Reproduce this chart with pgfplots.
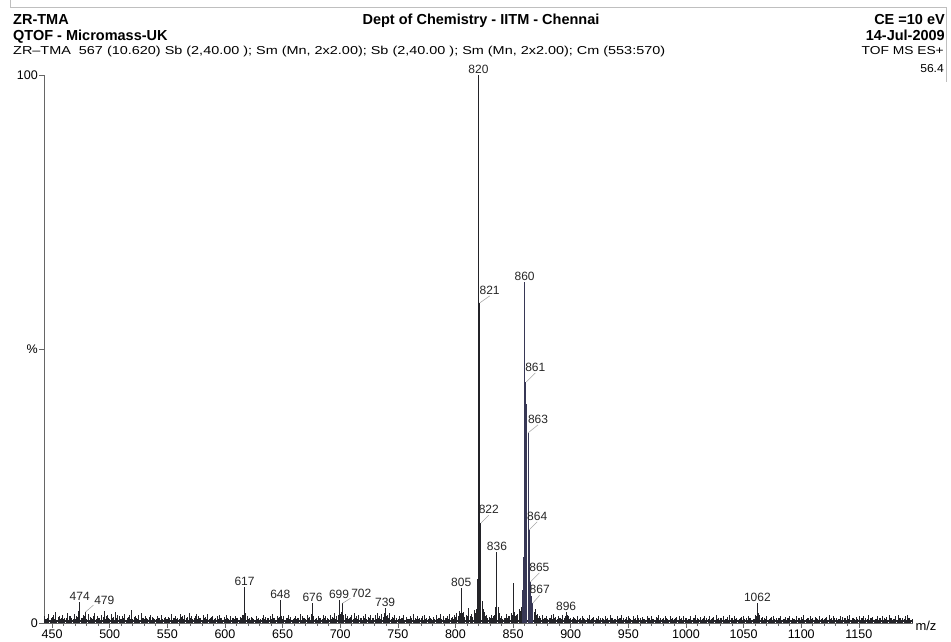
\documentclass[border=0pt]{standalone}
\usepackage{fontspec}
\setmainfont{Liberation Sans}
\usepackage{graphicx}
\usepackage{pgfplots}
\pgfplotsset{compat=1.18}
\definecolor{spec}{RGB}{35,35,40}
\definecolor{clus}{RGB}{55,55,85}
\tikzset{
  lbl/.style={font=\fontsize{12}{13}\selectfont, inner sep=1pt, text=black!85},
  lead/.style={black!35, line width=0.6pt},
}
\begin{document}
\begin{tikzpicture}
\path[use as bounding box] (0pt,0pt) rectangle (951pt,642pt);
% page frame
\draw[black!25, line width=0.8pt] (10pt,642pt) -- (10pt,635pt) -- (946pt,635pt) -- (946pt,560pt);
% header
\node[anchor=base west, inner sep=0, font=\fontsize{14.5}{16}\selectfont\bfseries] at (13pt,617pt) {ZR-TMA};
\node[anchor=base west, inner sep=0, font=\fontsize{14.5}{16}\selectfont\bfseries] at (13pt,601pt) {QTOF - Micromass-UK};
\node[anchor=base west, inner sep=0, font=\fontsize{11.5}{13}\selectfont] at (13pt,587pt) {\resizebox{652pt}{\height}{ZR--TMA\ \ 567 (10.620) Sb (2,40.00 ); Sm (Mn, 2x2.00); Sb (2,40.00 ); Sm (Mn, 2x2.00); Cm (553:570)}};
\node[anchor=base, inner sep=0, font=\fontsize{14.5}{16}\selectfont\bfseries] at (481pt,617pt) {Dept of Chemistry - IITM - Chennai};
\node[anchor=base east, inner sep=0, font=\fontsize{14.5}{16}\selectfont\bfseries] at (945pt,617pt) {CE =10 eV};
\node[anchor=base east, inner sep=0, font=\fontsize{14.5}{16}\selectfont\bfseries] at (945pt,601pt) {14-Jul-2009};
\node[anchor=base east, inner sep=0, font=\fontsize{11.5}{13}\selectfont] at (944pt,587pt) {\scalebox{1.2}[1]{TOF MS ES+}};
\node[anchor=base east, inner sep=0, font=\fontsize{11.5}{13}\selectfont] at (944pt,569pt) {\scalebox{1.05}[1]{56.4}};
\begin{axis}[
  at={(44pt,19pt)}, anchor=south west,
  width=869pt, height=548pt, scale only axis,
  xmin=443, xmax=1197, ymin=0, ymax=100,
  axis x line=bottom, axis y line=left,
  axis line style={-, black!60, line width=0.7pt},
  xtick={450,500,...,1150}, minor x tick num=4,
  ytick={0,50,100}, yticklabels={0,\%,100},
  tick align=outside, major tick length=5pt, minor tick length=3pt,
  tick style={black!60, line width=0.6pt},
  /pgf/number format/assume math mode=true,
  /pgf/number format/set thousands separator={},
  xticklabel style={font=\fontsize{12.5}{14}\selectfont, inner sep=2pt},
  yticklabel style={font=\fontsize{12.5}{14}\selectfont, inner sep=1pt},
  clip=false,
]
% noise floor (odd m/z)
\addplot[ycomb, no marks, spec, line width=0.55pt] coordinates {
(443,1.2)(445,0.8)(447,1.6)(449,0.9)(451,1.4)(453,2.0)(455,1.1)(457,0.7)(459,1.5)(461,1.0)
(463,1.8)(465,1.2)(467,0.9)(469,1.6)(471,1.3)(473,2.2)(475,1.0)(477,1.4)(481,1.7)(483,1.1)
(485,0.8)(487,1.9)(489,1.2)(491,1.0)(493,1.5)(495,2.1)(497,1.3)(499,0.9)(501,1.6)(503,1.1)
(505,2.0)(507,1.4)(509,0.8)(511,1.2)(513,1.7)(515,1.0)(517,1.5)(519,2.3)(521,1.1)(523,0.9)
(525,1.4)(527,1.8)(529,1.0)(531,1.3)(533,0.7)(535,1.5)(537,1.1)(539,0.8)(541,1.2)(543,0.9)
(545,1.4)(547,1.0)(549,0.7)(551,1.1)(553,1.6)(555,0.9)(557,1.3)(559,1.0)(561,1.7)(563,1.2)
(565,1.5)(567,1.1)(569,1.8)(571,1.3)(573,1.0)(575,1.6)(577,1.2)(579,0.9)(581,1.4)(583,1.1)
(585,1.7)(587,1.0)(589,1.3)(591,0.8)(593,1.2)(595,1.5)(597,0.9)(599,1.1)(601,1.4)(603,0.8)
(605,1.2)(607,1.0)(609,1.3)(611,0.9)(613,1.1)(615,1.4)(619,1.2)(621,0.9)(623,1.1)(625,0.7)
(627,1.3)(629,1.0)(631,0.8)(633,1.4)(635,1.1)(637,0.9)(639,1.2)(641,1.6)(643,1.0)(645,1.3)
(647,1.1)(651,1.2)(653,0.9)(655,1.5)(657,1.1)(659,0.8)(661,1.3)(663,1.0)(665,1.6)(667,1.2)
(669,0.9)(671,1.4)(673,1.1)(675,1.7)(679,1.0)(681,1.3)(683,0.9)(685,1.5)(687,1.2)(689,1.0)
(691,1.4)(693,1.1)(695,1.8)(697,1.3)(701,2.0)(704,1.6)(706,1.2)(708,1.0)(710,1.5)(712,1.9)
(714,1.2)(716,1.4)(718,1.0)(720,1.3)(722,1.7)(724,1.1)(726,1.5)(728,0.9)(730,1.4)(732,1.8)
(734,1.2)(736,1.6)(738,1.9)(741,1.4)(743,1.8)(745,1.1)(747,1.5)(749,1.0)(751,1.3)(753,0.9)
(755,1.4)(757,1.1)(759,0.8)(761,1.2)(763,1.6)(765,1.0)(767,1.3)(769,0.9)(771,1.2)(773,1.5)
(775,1.0)(777,1.3)(779,0.8)(781,1.1)(783,1.4)(785,1.0)(787,1.7)(789,1.2)(791,0.9)(793,1.3)
(795,1.6)(797,1.1)(799,1.4)(801,1.8)(803,2.2)(807,2.0)(809,1.5)(814,1.6)(816,2.4)
(825,2.0)(827,1.4)(829,1.1)(831,1.5)(833,1.2)(838,1.8)(840,1.2)(842,1.0)(844,1.6)(846,1.3)
(848,1.8)(853,1.5)(855,2.5)(857,3.0)(869,2.5)(871,1.6)(873,1.2)(875,1.4)(877,1.0)(879,1.3)
(881,0.9)(883,1.5)(885,1.7)(887,1.1)(889,1.3)(891,1.0)(893,1.4)(898,1.3)(900,1.0)
(902,1.1)(904,0.8)(906,1.2)(908,0.9)(910,1.3)(912,0.7)(914,1.0)(916,1.4)(918,0.8)(920,1.1)
(922,0.9)(924,1.3)(926,1.0)(928,0.7)(930,1.2)(932,0.9)(934,1.4)(936,1.0)(938,0.8)(940,1.2)
(942,1.0)(944,1.5)(946,0.9)(948,1.1)(950,1.3)(952,0.8)(954,1.2)(956,1.0)(958,1.4)(960,0.9)
(962,1.1)(964,0.7)(966,1.3)(968,1.0)(970,1.2)(972,0.8)(974,1.1)(976,1.4)(978,0.9)(980,1.0)
(982,1.3)(984,0.8)(986,1.2)(988,1.0)(990,0.7)(992,1.1)(994,1.3)(996,0.9)(998,1.2)(1000,1.0)
(1002,0.8)(1004,1.2)(1006,1.0)(1008,1.4)(1010,0.9)(1012,1.1)(1014,0.8)(1016,1.3)(1018,1.0)(1020,1.2)
(1022,0.8)(1024,1.1)(1026,1.4)(1028,0.9)(1030,1.0)(1032,1.3)(1034,0.8)(1036,1.1)(1038,1.5)(1040,0.9)
(1042,1.2)(1044,1.0)(1046,0.8)(1048,1.1)(1050,1.3)(1052,0.9)(1054,1.2)(1056,1.0)(1058,0.8)(1060,1.4)
(1064,1.5)(1066,1.1)(1068,0.9)(1070,1.2)(1072,0.8)(1074,1.1)(1076,1.3)(1078,0.9)(1080,1.0)(1082,1.2)
(1084,0.7)(1086,1.1)(1088,0.9)(1090,1.3)(1092,1.0)(1094,0.8)(1096,1.2)(1098,0.9)(1100,1.1)(1102,1.4)
(1104,0.8)(1106,1.0)(1108,1.2)(1110,0.9)(1112,1.1)(1114,0.7)(1116,1.3)(1118,1.0)(1120,0.8)(1122,1.1)
(1124,1.4)(1126,0.9)(1128,1.2)(1130,1.0)(1132,0.8)(1134,1.3)(1136,1.1)(1138,0.9)(1140,1.2)(1142,1.5)
(1144,1.0)(1146,0.8)(1148,1.1)(1150,1.3)(1152,0.9)(1154,1.2)(1156,1.0)(1158,1.4)(1160,0.9)(1162,1.1)
(1164,0.8)(1166,1.2)(1168,1.0)(1170,1.3)(1172,0.9)(1174,1.1)(1176,1.4)(1178,1.0)(1180,0.8)(1182,1.2)
(1184,1.5)(1186,1.0)(1188,0.9)(1190,1.2)(1192,1.4)(1194,1.0)(1196,0.8)
};
% noise floor (in-between points)
\addplot[ycomb, no marks, spec, line width=0.5pt] coordinates {
(444,0.7)(446,1.0)(448,0.6)(450,1.1)(452,0.8)(454,0.6)(456,1.2)(458,0.9)(460,0.7)(462,1.0)
(464,0.6)(466,1.3)(468,0.8)(470,0.7)(472,1.1)(476,0.9)(478,1.2)(480,0.8)(482,0.6)(484,1.0)
(486,1.3)(488,0.7)(490,0.9)(492,0.6)(494,1.1)(496,0.8)(498,1.4)(500,0.7)(502,0.9)(504,0.6)
(506,1.0)(508,1.2)(510,0.7)(512,0.9)(514,0.6)(516,1.1)(518,0.8)(520,0.7)(522,1.2)(524,0.8)
(526,0.6)(528,1.0)(530,0.7)(532,0.9)(534,1.1)(536,0.6)(538,0.9)(540,0.7)(542,1.0)(544,0.6)
(546,0.8)(548,1.1)(550,0.7)(552,0.9)(554,0.6)(556,1.0)(558,0.8)(560,0.7)(562,1.1)(564,0.8)
(566,0.9)(568,0.6)(570,1.0)(572,0.8)(574,1.2)(576,0.7)(578,0.9)(580,0.6)(582,1.0)(584,0.8)
(586,0.7)(588,1.1)(590,0.6)(592,0.9)(594,0.7)(596,1.0)(598,0.6)(600,0.8)(602,1.0)(604,0.6)
(606,0.9)(608,0.7)(610,1.0)(612,0.6)(614,0.9)(616,1.5)(618,1.8)(620,0.7)(622,0.6)(624,0.9)
(626,0.6)(628,0.8)(630,0.6)(632,1.0)(634,0.7)(636,0.6)(638,0.9)(640,0.7)(642,0.9)(644,0.6)
(646,0.9)(649,1.3)(650,0.8)(652,0.6)(654,0.9)(656,0.7)(658,0.6)(660,1.0)(662,0.7)(664,0.9)
(666,0.6)(668,1.0)(670,0.7)(672,0.9)(674,0.6)(677,1.2)(678,0.8)(680,0.6)(682,0.9)(684,0.7)
(686,0.9)(688,0.6)(690,0.8)(692,0.7)(694,1.0)(696,0.8)(698,1.4)(700,1.6)(703,1.4)(705,0.9)
(707,0.7)(709,1.1)(711,0.8)(713,1.0)(715,0.7)(717,0.9)(719,0.6)(721,1.0)(723,0.8)(725,0.9)
(727,0.6)(729,1.0)(731,0.7)(733,0.9)(735,0.8)(737,1.1)(740,1.2)(742,0.9)(744,0.7)(746,1.0)
(748,0.6)(750,0.8)(752,0.7)(754,0.9)(756,0.6)(758,0.8)(760,0.7)(762,0.9)(764,0.6)(766,0.8)
(768,0.7)(770,0.9)(772,0.6)(774,0.8)(776,0.7)(778,0.9)(780,0.6)(782,0.8)(784,0.7)(786,1.0)
(788,0.8)(790,0.6)(792,0.9)(794,0.7)(796,0.9)(798,0.8)(800,1.1)(802,1.3)(804,1.8)(806,1.9)
(808,1.1)(810,1.2)(813,1.3)(815,1.1)(817,1.8)(818,2.6)(824,2.6)(826,1.2)(828,1.0)(830,0.9)
(832,1.0)(834,1.4)(839,1.0)(841,0.8)(843,0.9)(845,1.0)(847,1.2)(849,1.4)(851,2.0)(852,1.2)
(854,1.6)(856,2.2)(868,2.0)(870,1.4)(872,0.9)(874,1.0)(876,0.8)(878,0.9)(880,0.7)(882,1.0)
(884,0.8)(886,0.9)(888,0.7)(890,0.9)(892,0.8)(894,1.0)(895,1.2)(897,1.4)(899,0.8)(901,0.7)
(903,0.9)(905,0.6)(907,0.8)(909,0.6)(911,0.9)(913,0.6)(915,0.8)(917,0.6)(919,0.9)(921,0.6)
(923,0.8)(925,0.6)(927,0.9)(929,0.6)(931,0.8)(933,0.6)(935,0.9)(937,0.6)(939,0.8)(941,0.7)
(943,0.9)(945,0.6)(947,0.8)(949,0.6)(951,0.9)(953,0.6)(955,0.8)(957,0.6)(959,0.9)(961,0.6)
(963,0.8)(965,0.6)(967,0.9)(969,0.6)(971,0.8)(973,0.6)(975,0.9)(977,0.6)(979,0.8)(981,0.6)
(983,0.9)(985,0.6)(987,0.8)(989,0.6)(991,0.9)(993,0.6)(995,0.8)(997,0.6)(999,0.9)(1001,0.6)
(1003,0.8)(1005,0.6)(1007,0.9)(1009,0.6)(1011,0.8)(1013,0.6)(1015,0.9)(1017,0.6)(1019,0.8)(1021,0.6)
(1023,0.9)(1025,0.6)(1027,0.8)(1029,0.6)(1031,0.9)(1033,0.6)(1035,0.8)(1037,0.6)(1039,0.9)(1041,0.6)
(1043,0.8)(1045,0.6)(1047,0.9)(1049,0.6)(1051,0.8)(1053,0.6)(1055,0.9)(1057,0.6)(1059,0.8)(1061,1.2)
(1063,1.8)(1065,0.9)(1067,0.6)(1069,0.8)(1071,0.6)(1073,0.9)(1075,0.6)(1077,0.8)(1079,0.6)(1081,0.9)
(1083,0.6)(1085,0.8)(1087,0.6)(1089,0.9)(1091,0.6)(1093,0.8)(1095,0.6)(1097,0.9)(1099,0.6)(1101,0.8)
(1103,0.6)(1105,0.9)(1107,0.6)(1109,0.8)(1111,0.6)(1113,0.9)(1115,0.6)(1117,0.8)(1119,0.6)(1121,0.9)
(1123,0.6)(1125,0.8)(1127,0.6)(1129,0.9)(1131,0.6)(1133,0.8)(1135,0.6)(1137,0.9)(1139,0.6)(1141,0.8)
(1143,0.6)(1145,0.9)(1147,0.6)(1149,0.8)(1151,0.6)(1153,0.9)(1155,0.6)(1157,0.8)(1159,0.6)(1161,0.9)
(1163,0.6)(1165,0.8)(1167,0.6)(1169,0.9)(1171,0.6)(1173,0.8)(1175,0.6)(1177,0.9)(1179,0.6)(1181,0.8)
(1183,0.6)(1185,0.9)(1187,0.6)(1189,0.8)(1191,0.6)(1193,0.9)(1195,0.6)
};
% baseline band
\addplot[spec, line width=2.2pt, no marks] coordinates {(443,0.4) (1197,0.4)};
% main peaks
\addplot[ycomb, no marks, spec, line width=0.9pt] coordinates {
(474,3.8)(479,2.0)(617,6.6)(648,4.2)(676,3.6)(699,4.2)(702,3.6)(739,2.7)
(805,6.4)(811.6,2.7)(819,8)(820,100)(821,58.4)(822,18.2)(823,4)(835,3)(836,13.0)(837,3)
(850.7,7.3)(896,2.0)(1062,3.6)
};
\addplot[ycomb, no marks, clus, line width=1.1pt] coordinates {
(858,6)(859,12)(860,62.2)(861,44.0)(862,40)(863,34.7)(864,17.0)(865,7.5)(866,5)(867,3.6)
};
% labels
\node[lbl, anchor=south] at (axis cs:820,100) {820};
\node[lbl, anchor=south] at (axis cs:860,62.2) {860};
\node[lbl, anchor=south] at (axis cs:836,13.0) {836};
\node[lbl, anchor=south] at (axis cs:805,6.4) {805};
\node[lbl, anchor=south] at (axis cs:896,2.0) {896};
\node[lbl, anchor=south] at (axis cs:474,3.8) {474};
\node[lbl, anchor=south] at (axis cs:617,6.6) {617};
\node[lbl, anchor=south] at (axis cs:648,4.2) {648};
\node[lbl, anchor=south] at (axis cs:676,3.6) {676};
\node[lbl, anchor=south] at (axis cs:699,4.2) {699};
\node[lbl, anchor=south] at (axis cs:739,2.7) {739};
\node[lbl, anchor=south] at (axis cs:1062,3.6) {1062};
\draw[lead] (axis cs:821,58.4) -- ++(10pt,7pt) node[lbl, anchor=south] {821};
\draw[lead] (axis cs:822,18.2) -- ++(8pt,8pt) node[lbl, anchor=south] {822};
\draw[lead] (axis cs:861.5,44.0) -- ++(9pt,9pt) node[lbl, anchor=south] {861};
\draw[lead] (axis cs:863,34.7) -- ++(10pt,8pt) node[lbl, anchor=south] {863};
\draw[lead] (axis cs:864,17.0) -- ++(8pt,8pt) node[lbl, anchor=south] {864};
\draw[lead] (axis cs:865,7.5) -- ++(9pt,9pt) node[lbl, anchor=south] {865};
\draw[lead] (axis cs:867,3.6) -- ++(7pt,8pt) node[lbl, anchor=south] {867};
\draw[lead] (axis cs:479,2.0) -- ++(8pt,7pt) node[lbl, anchor=south west, inner sep=0.5pt] {479};
\draw[lead] (axis cs:702,3.6) -- ++(8pt,5pt) node[lbl, anchor=south west, inner sep=0.5pt] {702};
\node[anchor=west, font=\fontsize{13}{14}\selectfont, inner sep=0] at (axis cs:1199,-0.5) {m/z};
\end{axis}
\end{tikzpicture}
\end{document}
